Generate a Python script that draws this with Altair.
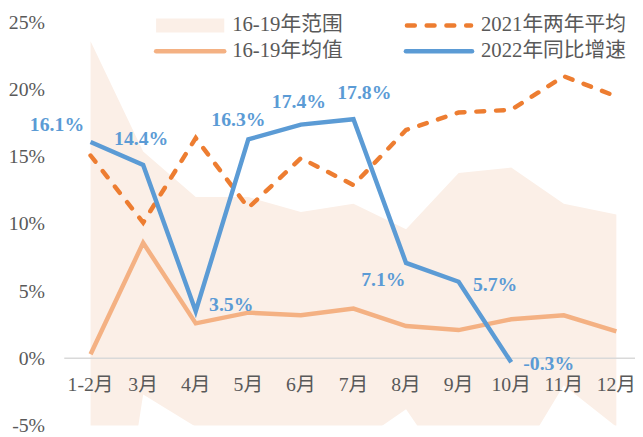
import altair as alt
import pandas as pd

# ---- data ----
months = ["1-2月", "3月", "4月", "5月", "6月", "7月", "8月", "9月", "10月", "11月", "12月"]
range_low_1619 = [-28.0, -2.7, -5.1, -6.0, -6.0, -6.5, -3.8, -9.5, -8.5, -2.0, -5.1]
range_high_1619 = [23.6, 15.4, 12.0, 12.0, 10.9, 11.5, 9.6, 13.8, 14.2, 11.5, 10.7]
mean_1619 = [0.3, 8.6, 2.6, 3.4, 3.2, 3.7, 2.4, 2.1, 2.9, 3.2, 2.0]
avg_2021 = [15.1, 10.1, 16.4, 11.2, 14.9, 12.9, 17.0, 18.3, 18.5, 21.0, 19.5]
yoy_2022 = [16.1, 14.4, 3.5, 16.3, 17.4, 17.8, 7.1, 5.7, -0.3]
y_ticks = [-5, 0, 5, 10, 15, 20, 25]
legend_names = ["16-19年范围", "2021年两年平均", "16-19年均值", "2022年同比增速"]

# ---- styling ----
FONT = "Liberation Serif, Noto Sans CJK SC"
GREY = "#595959"
BAND = "#FBEFE7"
LIGHT = "#F4B183"
ORANGE = "#ED7D31"
BLUE = "#5B9BD5"
label_offsets = [(-34, -17), (-2, -26), (36, -6), (-10, -20), (-2, -23),
                 (11, -26), (-23, 17), (37, 3), (38, 2)]

W, H = 578, 408

df = pd.DataFrame({
    "idx": list(range(len(months))),
    "month": months,
    "lo": range_low_1619,
    "hi": range_high_1619,
    "mean": mean_1619,
    "avg21": avg_2021,
})
df22 = pd.DataFrame({"idx": list(range(len(yoy_2022))), "v": yoy_2022})

xscale = alt.Scale(domain=[-0.5, -0.5 + W / 53.25], nice=False, zero=False)
yscale = alt.Scale(domain=[-5, 25], nice=False, zero=False)
yaxis = alt.Axis(values=y_ticks, labelExpr="datum.value + '%'", grid=False, domain=False,
                 ticks=False, labelPadding=20, labelFont=FONT, labelFontSize=20,
                 labelColor=GREY, title=None)


def X():
    return alt.X("idx:Q", scale=xscale, axis=None)


def Y(field):
    return alt.Y(field, type="quantitative", scale=yscale, axis=yaxis, title=None)


base = alt.Chart(df)

band = base.mark_area(color=BAND, clip=True).encode(x=X(), y=Y("lo"), y2="hi")

zero_line = alt.Chart(pd.DataFrame({"z": [0]})).mark_rule(color="#D9D9D9", strokeWidth=1.5).encode(
    x=alt.value(0), x2=alt.value(W), y=Y("z"))

mean_line = base.mark_line(color=LIGHT, strokeWidth=4.5).encode(x=X(), y=Y("mean"))
avg_line = base.mark_line(color=ORANGE, strokeWidth=4.5, strokeDash=[8, 12],
                          strokeCap="round").encode(x=X(), y=Y("avg21"))
yoy_line = alt.Chart(df22).mark_line(color=BLUE, strokeWidth=4.5).encode(x=X(), y=Y("v"))

xlabels = alt.Chart(df.assign(z=0)).mark_text(
    font=FONT, fontSize=20, color=GREY, align="center", baseline="middle", dy=27
).encode(x=X(), y=Y("z"), text="month:N")

labels = []
for i, (dx, dy) in enumerate(label_offsets):
    labels.append(
        alt.Chart(df22).transform_filter(alt.datum.idx == i)
        .transform_calculate(t="datum.v + '%'")
        .mark_text(font="Liberation Serif", fontSize=20, fontWeight="bold", color=BLUE,
                   align="center", baseline="middle", dx=dx, dy=dy)
        .encode(x=X(), y=Y("v"), text="t:N")
    )

one = pd.DataFrame({"a": [0]})
leg = [
    alt.Chart(one).mark_rect(color=BAND).encode(
        x=alt.value(93), x2=alt.value(162), y=alt.value(-4), y2=alt.value(10)),
    alt.Chart(one).mark_rule(color=ORANGE, strokeWidth=4.5, strokeDash=[8, 12],
                             strokeCap="round").encode(
        x=alt.value(347), x2=alt.value(412), y=alt.value(3)),
    alt.Chart(one).mark_rule(color=LIGHT, strokeWidth=4.5, strokeCap="round").encode(
        x=alt.value(93), x2=alt.value(162), y=alt.value(29)),
    alt.Chart(one).mark_rule(color=BLUE, strokeWidth=4.5, strokeCap="round").encode(
        x=alt.value(346), x2=alt.value(413), y=alt.value(29)),
]
for name, (lx, ly) in zip(legend_names, [(170, 3), (422, 3), (170, 29), (422, 29)]):
    leg.append(alt.Chart(one).mark_text(font=FONT, fontSize=21, color=GREY, align="left",
                                        baseline="middle").encode(
        x=alt.value(lx), y=alt.value(ly), text=alt.value(name)))

chart = alt.layer(band, zero_line, mean_line, avg_line, yoy_line, xlabels, *labels, *leg).properties(
    width=W, height=H,
    padding={"left": 57, "top": 12, "right": 0, "bottom": 9},
    autosize=alt.AutoSizeParams(type="none"),
    background="white",
).configure_view(stroke=None)

chart.save("out.html", embed_options={"renderer": "svg", "actions": False})
